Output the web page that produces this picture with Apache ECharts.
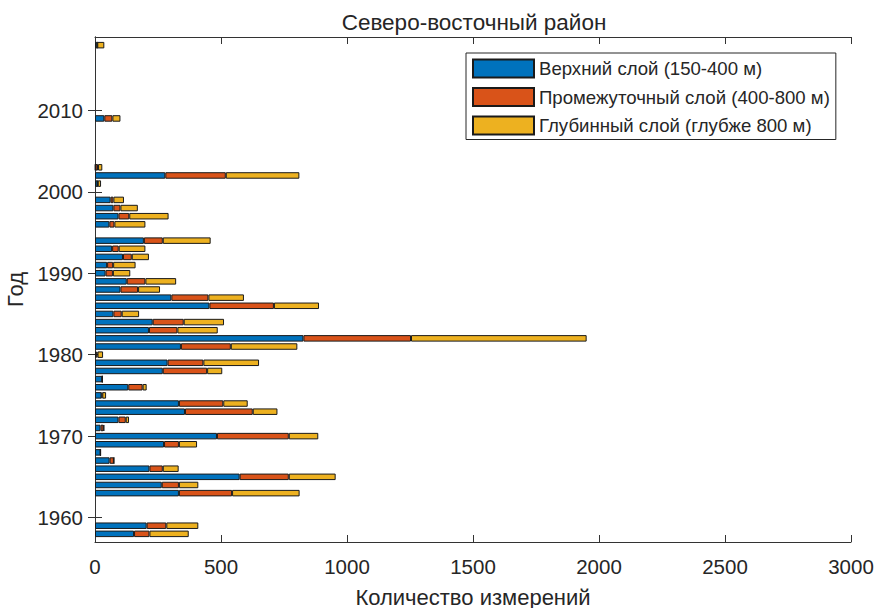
<!DOCTYPE html>
<html><head><meta charset="utf-8">
<script src="https://cdn.jsdelivr.net/npm/echarts@6/dist/echarts.min.js"></script>
<style>html,body{margin:0;padding:0;background:#fff}#c{width:877px;height:608px}</style>
</head><body><div id="c"></div>
<script>
const years  = [1958,1959,1963,1964,1965,1966,1967,1968,1969,1970,1971,1972,1973,1974,1975,1976,1977,1978,1979,1980,1981,1982,1983,1984,1985,1986,1987,1988,1989,1990,1991,1992,1993,1994,1996,1997,1998,1999,2001,2002,2003,2009,2018];
const upper  = [155,205,333,265,574,216,58,22,274,484,22,93,357,333,26,132,29,269,288,5,341,827,214,229,73,454,303,101,126,42,48,111,68,194,57,93,73,62,10,279,2,37,9];
const middle = [61,78,211,68,195,53,17,0,59,285,12,29,269,176,3,57,0,176,142,5,198,427,113,123,33,256,147,70,74,29,24,35,26,75,20,43,28,11,1,240,10,32,0];
const deep   = [156,127,268,77,186,63,0,0,72,117,2,13,98,97,15,16,0,60,221,22,264,697,160,160,69,179,141,87,122,69,89,68,106,190,123,156,69,42,13,292,17,32,28];
const seriesNames = ['Верхний слой (150-400 м)','Промежуточный слой (400-800 м)','Глубинный слой (глубже 800 м)'];
const yearTicks = [1960,1970,1980,1990,2000,2010];
const yearFirst = 1957, yearLast = 2019;
const xMin = 0, xMax = 3000, xStep = 500;

const cats = [];
for (let y = yearFirst; y <= yearLast; y++) cats.push(String(y));
const colors = ['#0072BD','#D95319','#EDB120'];
const txt = '#262626';
const font = 'Liberation Sans, Arial, sans-serif';
const isTick = (i, v) => yearTicks.indexOf(Number(v)) >= 0;

const chart = echarts.init(document.getElementById('c'), null, {renderer:'svg'});
const mk = (vals, i) => ({
  name: seriesNames[i], type:'bar', stack:'total', xAxisIndex:0, yAxisIndex:0,
  barWidth: 6.5,
  itemStyle:{color:colors[i], borderColor:'#1a1a1a', borderWidth:1},
  data: years.map((y,k)=>[vals[k], String(y)])
});
chart.setOption({
  animation:false,
  textStyle:{fontFamily:font},
  title:{text:'Северо-восточный район', left:469, textAlign:'center', top:6,
    textStyle:{fontSize:22.5, fontWeight:'normal', color:txt, fontFamily:font}},
  legend:{orient:'vertical', left:466, top:53, itemWidth:61, itemHeight:18, itemGap:8.5,
    padding:[5.5,6,4,6], borderColor:'#262626', borderWidth:1, backgroundColor:'#fff',
    icon:'rect', textStyle:{fontSize:18.6, color:txt, fontFamily:font}, data:seriesNames},
  grid:{left:95, right:26, top:37, bottom:66, containLabel:false, outerBoundsMode:'none'},
  xAxis:[
    {type:'value', min:xMin, max:xMax, interval:xStep, position:'bottom',
     name:'Количество измерений', nameLocation:'middle', nameGap:44,
     nameTextStyle:{fontSize:22, color:txt, fontFamily:font},
     axisLine:{show:true, lineStyle:{color:'#333', width:1}},
     axisTick:{show:true, inside:true, length:7, lineStyle:{color:'#333'}},
     axisLabel:{fontSize:20.5, color:txt, margin:14, fontFamily:font, formatter:v=>String(v)},
     splitLine:{show:false}},
    {type:'value', min:xMin, max:xMax, interval:xStep, position:'top',
     axisLine:{show:true, lineStyle:{color:'#333', width:1}},
     axisTick:{show:true, inside:true, length:7, lineStyle:{color:'#333'}},
     axisLabel:{show:false}, splitLine:{show:false}}
  ],
  yAxis:[
    {type:'category', data:cats, boundaryGap:false, position:'left',
     name:'Год', nameLocation:'middle', nameGap:67,
     nameTextStyle:{fontSize:22, color:txt, fontFamily:font},
     axisLine:{show:true, lineStyle:{color:'#333', width:1}},
     axisTick:{show:true, inside:true, length:7, interval:isTick, lineStyle:{color:'#333'}},
     axisLabel:{fontSize:20.5, color:txt, margin:12, interval:isTick, fontFamily:font},
     splitLine:{show:false}},
    {type:'category', data:cats, boundaryGap:false, position:'right',
     axisLine:{show:true, lineStyle:{color:'#333', width:1}},
     axisTick:{show:true, inside:true, length:7, interval:isTick, lineStyle:{color:'#333'}},
     axisLabel:{show:false, interval:isTick}, splitLine:{show:false}}
  ],
  series:[mk(upper,0), mk(middle,1), mk(deep,2)]
});
</script></body></html>
